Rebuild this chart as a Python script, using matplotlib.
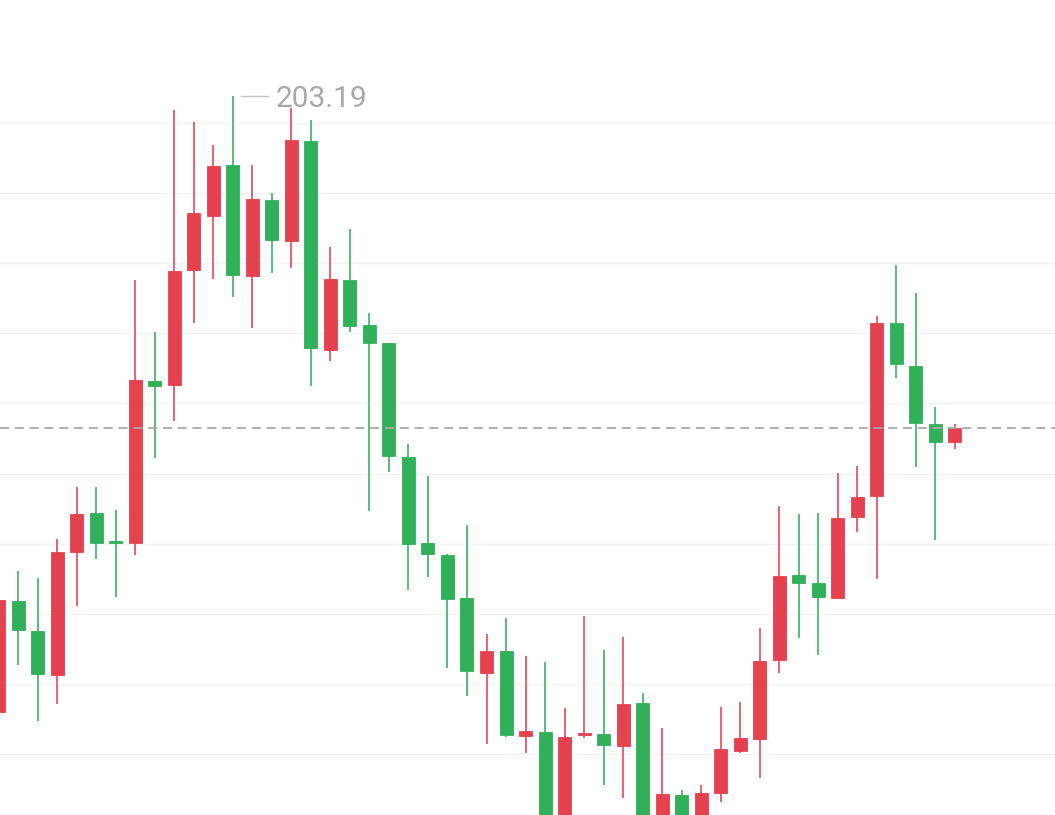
import matplotlib
matplotlib.use("Agg")
import matplotlib.pyplot as plt
import numpy as np

# Daily OHLC prices
opens = [172.40, 177.95, 176.45, 174.25, 180.40, 182.35, 180.90, 180.85, 188.95, 188.75,
         194.50, 197.20, 199.75, 194.20, 198.00, 195.95, 200.95, 190.50, 194.00, 191.75,
         190.85, 185.15, 180.85, 180.25, 178.10, 174.35, 175.45, 171.20, 171.40, 166.50,
         171.25, 171.30, 170.70, 172.85, 166.50, 168.25, 167.00, 168.35, 170.45, 171.05,
         175.00, 179.25, 178.85, 178.10, 182.15, 183.20, 191.85, 189.70, 186.80, 185.90]
highs = [178.25, 179.45, 179.10, 181.05, 183.65, 183.65, 182.50, 194.00, 191.40, 202.50,
         201.90, 200.75, 203.19, 199.75, 198.35, 202.60, 202.00, 195.65, 196.55, 192.35,
         190.85, 185.80, 184.20, 180.30, 181.75, 176.30, 177.10, 175.20, 174.90, 172.60,
         177.20, 175.50, 176.15, 173.35, 171.60, 168.50, 168.75, 172.65, 172.90, 176.60,
         182.70, 182.30, 182.35, 184.35, 184.70, 192.20, 194.75, 193.35, 187.65, 186.80]
lows = [172.20, 174.75, 171.95, 172.80, 177.70, 180.05, 178.15, 180.25, 185.10, 186.95,
        191.85, 194.05, 193.15, 191.60, 194.35, 194.60, 188.70, 189.95, 191.40, 182.45,
        184.40, 178.50, 179.15, 174.60, 173.20, 170.80, 171.15, 170.35, 165.00, 165.50,
        171.10, 168.75, 168.10, 166.25, 166.00, 166.25, 166.50, 167.90, 170.35, 169.10,
        174.35, 176.10, 175.25, 178.10, 181.40, 179.05, 189.10, 184.65, 181.00, 185.55]
closes = [178.00, 176.50, 174.30, 180.40, 182.30, 180.85, 180.85, 189.00, 188.70, 194.45,
          197.35, 199.70, 194.25, 198.05, 196.00, 201.00, 190.60, 194.05, 191.70, 190.85,
          185.20, 180.80, 180.30, 178.05, 174.45, 175.45, 171.25, 171.45, 166.00, 171.15,
          171.35, 170.75, 172.80, 167.00, 168.30, 166.75, 168.35, 170.55, 171.10, 174.95,
          179.20, 178.85, 178.15, 182.10, 183.15, 191.85, 189.80, 186.85, 185.90, 186.60]

UP = "#E5414F"      # rising day (close above open)
DOWN = "#30B058"    # falling day
GRID = "#F2F2F2"
LABEL = "#A8A8A8"

W, H, DPI = 1055, 815, 100
fig = plt.figure(figsize=(W / DPI, H / DPI), dpi=DPI, facecolor="white")
ax = fig.add_axes([0, 0, 1, 1])
ax.set_axis_off()

n = len(opens)
idx = np.arange(n)
px_per_bar = 19.52
x_left = 1.5 / px_per_bar
ax.set_xlim(x_left, x_left + W / px_per_bar)
y_top, y_bottom = 208.0, 208.0 - 0.05 * H
ax.set_ylim(y_bottom, y_top)

# horizontal grid
grid_top, grid_step = 201.87, 3.51
for g in grid_top - grid_step * np.arange(10):
    ax.axhline(g, color=GRID, lw=1.0, zorder=0)

body_w = 13.0 / px_per_bar
for i in idx:
    o, h, l, c = opens[i], highs[i], lows[i], closes[i]
    col = UP if c >= o else DOWN
    ax.vlines(i, l, h, color=col, lw=1.15, zorder=2)
    lo, hi = min(o, c), max(o, c)
    ax.bar(i, max(hi - lo, 0.08), bottom=lo, width=body_w, color=col,
           edgecolor=col, linewidth=0.6, zorder=3)

# last close reference line
ax.axhline(closes[-1], color="#A9A9A9", lw=1.3, ls=(0, (5, 3.2)), zorder=4)

# highest high marker
imax = int(np.argmax(highs))
hmax = highs[imax]
ax.plot([imax + 8.5 / px_per_bar, imax + 35.5 / px_per_bar], [hmax, hmax],
        color="#C4C4C4", lw=1.0, zorder=4)
ax.annotate(f"{hmax:.2f}", xy=(imax + 42.5 / px_per_bar, hmax),
            xytext=(0, -1.8), textcoords="offset points",
            color=LABEL, fontsize=21.5, family="Roboto",
            ha="left", va="center", zorder=5)

fig.savefig("out.png", dpi=DPI, facecolor="white")
